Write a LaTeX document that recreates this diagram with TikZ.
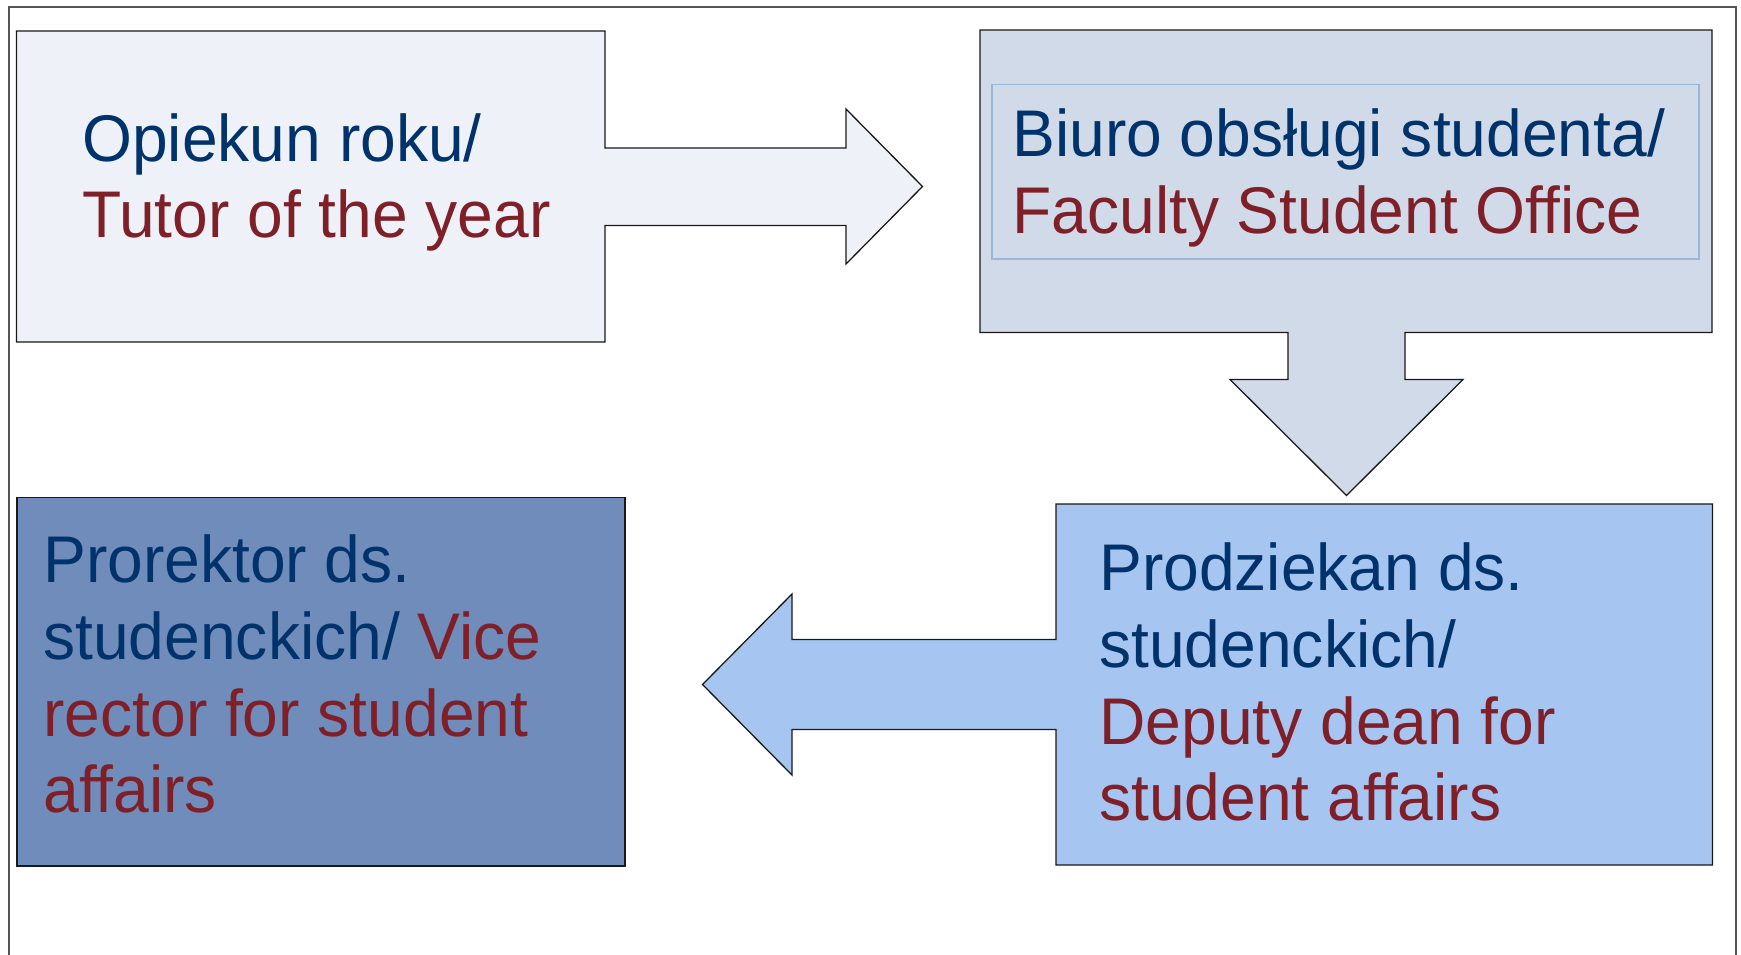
\documentclass[tikz,border=0pt]{standalone}
\usepackage{fontspec}
\setmainfont[FakeStretch=0.972]{Liberation Sans}
\usetikzlibrary{positioning}
\definecolor{plnavy}{HTML}{00336B}
\definecolor{plred}{HTML}{7F2029}
\definecolor{tutorfill}{HTML}{EEF2F8}
\definecolor{officefill}{HTML}{D0DAE8}
\definecolor{officeline}{HTML}{9CB6D8}
\definecolor{rectorfill}{HTML}{6F8CBB}
\definecolor{deanfill}{HTML}{A6C5F1}
\definecolor{framegray}{HTML}{555555}

\begin{document}
\begin{tikzpicture}[x=0.5pt,y=-0.5pt,
		blockline/.style={draw=black!90,line width=0.65pt,line join=miter},
		lbl/.style={anchor=base west,align=left,inner sep=0pt,
			font=\fontsize{33}{38.3}\selectfont,text=plnavy}]
	\useasboundingbox (0,0) rectangle (1741,954);
	\clip (0,0) rectangle (1741,954);
	% outer frame, open at the bottom
	\draw[framegray,line width=1pt] (9,980) |- (1736,7) -- (1736,980);
	% tutor box with arrow to the right
	\draw[blockline,fill=tutorfill] (16.5,31) -- (605,31) -- (605,148) -- (846,148)
		-- (846,109) -- (922.5,186.5) coordinate (tip1) -- (846,264) -- (846,225.5)
		-- (605,225.5) -- (605,342) -- (16.5,342) -- cycle;
	% office box with arrow down
	\draw[blockline,fill=officefill] (980,30) -- (1712,30) -- (1712,332.5) -- (1405,332.5)
		-- (1405,379.5) -- (1463,379.5) -- (1346.5,495.5) coordinate (tip2) -- (1230,379.5)
		-- (1288,379.5) -- (1288,332.5) -- (980,332.5) -- cycle;
	\draw[officeline,line width=0.65pt] (992,84.5) rectangle (1699,259);
	% vice rector box
	\draw[blockline,fill=rectorfill] (17,497.5) rectangle (625,866);
	% deputy dean box with arrow to the left
	\draw[blockline,fill=deanfill] (1056,504) -- (1712.5,504) -- (1712.5,865) -- (1056,865)
		-- (1056,729.5) -- (792,729.5) -- (792,775) -- (702.5,684.5) coordinate (tip3)
		-- (792,594) -- (792,639.5) -- (1056,639.5) -- cycle;
	% labels (base = last line)
	\node[lbl] (tutor) at (82,237.7) {Opiekun roku/\\\textcolor{plred}{Tutor of the year}};
	\node[lbl] (office) at (1012,233.3) {Biuro obsługi studenta/\\\textcolor{plred}{Faculty Student Office}};
	\node[lbl] (rector) at (43,812.7) {Prorektor ds.\\studenckich/ \textcolor{plred}{Vice}\\
		\textcolor{plred}{rector for student}\\\textcolor{plred}{affairs}};
	\node[lbl] (dean) at (1099,820.7) {Prodziekan ds.\\studenckich/\\
		\textcolor{plred}{Deputy dean for}\\\textcolor{plred}{student affairs}};
\end{tikzpicture}
\end{document}
